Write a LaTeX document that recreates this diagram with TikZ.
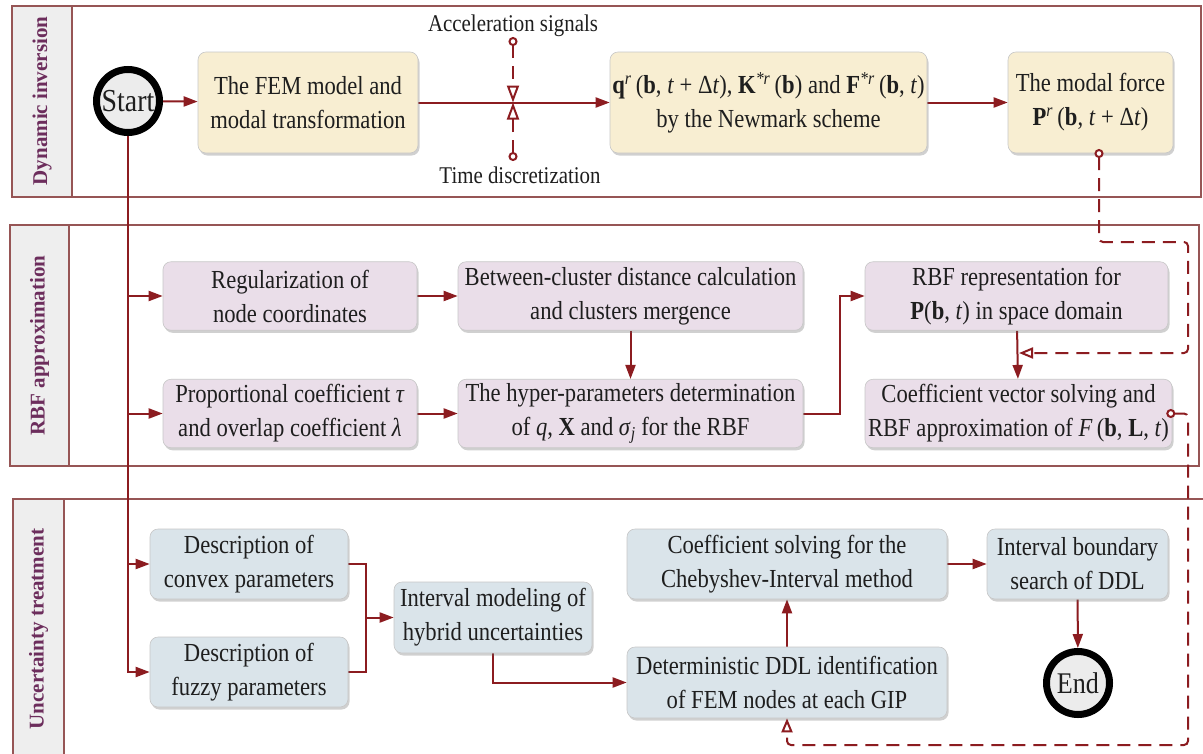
\documentclass[tikz,border=0pt]{standalone}
\usepackage{fontspec}
\setmainfont{Liberation Serif}[FakeStretch=0.87]
\newfontfamily\lanefont{Liberation Serif}
\usetikzlibrary{arrows.meta,shadows,calc}
\pgfdeclarelayer{bg}
\pgfsetlayers{bg,main}
\definecolor{arr}{RGB}{140,28,32}
\definecolor{lanec}{RGB}{150,85,85}
\definecolor{labg}{RGB}{238,238,238}
\definecolor{labc}{RGB}{108,45,92}
\definecolor{yel}{RGB}{248,238,210}
\definecolor{pur}{RGB}{234,222,233}
\definecolor{blu}{RGB}{218,228,234}
\definecolor{circ}{RGB}{236,236,236}
\definecolor{txt}{RGB}{30,30,30}
\newcommand\supit[1]{\textsuperscript{\itshape #1}}
\tikzset{
  box/.style={rounded corners=8pt, draw=black!22, line width=0.6pt, align=center, inner sep=2pt,
    font=\fontsize{26}{34}\selectfont, text=txt,
    drop shadow={shadow xshift=1.5pt, shadow yshift=-2.5pt, opacity=0.3, fill=black!60}},
  ybox/.style={box, fill=yel, minimum height=101pt},
  pbox/.style={box, fill=pur, minimum height=68.5pt},
  bbox/.style={box, fill=blu, minimum height=70pt},
  term/.style={circle, draw=black, line width=7pt, fill=circ, minimum size=63pt, inner sep=0pt, text=txt},
  plain/.style={draw=arr, line width=2pt},
  conn/.style={plain, -{Triangle[length=14pt,width=10pt]}},
  dconn/.style={plain, dash pattern=on 13pt off 8pt, rounded corners=4pt},
  ctip/.style={{Circle[open,length=9pt,width=9pt,fill=white]}-{Triangle[open,length=14pt,width=11pt]}},
  vtip/.style={{Circle[open,length=9pt,width=9pt,fill=white]}-{Triangle[open,length=17pt,width=12pt]}},
  lane/.style={draw=lanec, line width=1.8pt},
  lanelab/.style={rotate=90, font=\lanefont\bfseries\fontsize{21}{25}\selectfont, text=labc},
  small/.style={font=\fontsize{24}{28}\selectfont, text=txt}
}
\begin{document}
\begin{tikzpicture}[x=1pt,y=-1pt]
\useasboundingbox (0,0) rectangle (1203,753);

% ---------- nodes ----------
\node[term, font=\fontsize{32}{36}\selectfont] (start) at (128,101) {Start};
\node[ybox, minimum width=220pt] (fem) at (308,102.5) {The FEM model and\\modal transformation};
\node[ybox, minimum width=317pt] (newm) at (768.5,102.5)
  {\textbf{q}\supit{r}\,(\textbf{b}, \textit{t} + Δ\textit{t}), \textbf{K}\supit{*r}\,(\textbf{b}) and \textbf{F}\supit{*r}\,(\textbf{b}, \textit{t})\\by the Newmark scheme};
\node[ybox, minimum width=165pt] (modal) at (1090.5,102.5)
  {The modal force\\\textbf{P}\supit{r}\,(\textbf{b}, \textit{t} + Δ\textit{t})};

\node[pbox, minimum width=254pt] (reg) at (290,296) {Regularization of\\node coordinates};
\node[pbox, minimum width=254pt] (prop) at (290,413.5) {Proportional coefficient \textit{τ}\\and overlap coefficient \textit{λ}};
\node[pbox, minimum width=345pt] (betw) at (630.5,296) {Between-cluster distance calculation\\and clusters mergence};
\node[pbox, minimum width=345pt] (hyper) at (630.5,413.5)
  {The hyper-parameters determination\\of \textit{q}, \textbf{X} and \textit{σ}\textsubscript{\textit{j}} for the RBF};
\node[pbox, minimum width=303pt] (rep) at (1016.5,296) {RBF representation for\\\textbf{P}(\textbf{b}, \textit{t}) in space domain};
\node[pbox, minimum width=307pt] (coef) at (1018.5,413.5)
  {Coefficient vector solving and\\RBF approximation of \textit{F}\,(\textbf{b}, \textbf{L}, \textit{t})};

\node[bbox, minimum width=198pt] (convex) at (249,564) {Description of\\convex parameters};
\node[bbox, minimum width=198pt] (fuzzy) at (249,672) {Description of\\fuzzy parameters};
\node[bbox, minimum width=198pt, minimum height=71pt] (interval) at (493,617.5) {Interval modeling of\\hybrid uncertainties};
\node[bbox, minimum width=320pt] (cheb) at (787,564) {Coefficient solving for the\\Chebyshev-Interval method};
\node[bbox, minimum width=320pt, minimum height=71pt] (det) at (787,682.5) {Deterministic DDL identification\\of FEM nodes at each GIP};
\node[bbox, minimum width=181pt] (bound) at (1077.5,564) {Interval boundary\\search of DDL};
\node[term, font=\fontsize{30}{34}\selectfont] (end) at (1078,683) {End};

\node[small] (accl) at (513,26) {Acceleration signals};
\node[small] (timl) at (520,175) {Time discretization};

\coordinate (acc) at (513,37);
\coordinate (tim) at (513,161);
\coordinate (valve) at (513,102.5);
\coordinate (pc) at (1099,149);
\coordinate (cc) at ($(coef.east)+(-6,0)$);
\coordinate (mg) at ($(interval.west)+(-28,0)$);

% ---------- background: lanes and connectors ----------
\begin{pgfonlayer}{bg}
\fill[white] (0,0) rectangle (1203,753);
\draw[lane] (12,6) rectangle (1201,197);
\filldraw[lane, fill=labg] (12,6) rectangle (72,197);
\draw[lane] (10,225) rectangle (1199,466);
\filldraw[lane, fill=labg] (10,225) rectangle (69,466);
\draw[lane] (13,499) -- (1203,499);
\filldraw[lane, fill=labg] (13,760) -- (13,499) -- (64,499) -- (64,760);

\draw[conn] (start) -- (fem);
\draw[conn] (fem) -- (newm);
\draw[conn] (newm) -- (modal);

\draw[conn] (start.south) |- (fuzzy.west);
\draw[conn] (start.south |- reg.west) -- (reg.west);
\draw[conn] (start.south |- prop.west) -- (prop.west);
\draw[conn] (start.south |- convex.west) -- (convex.west);

\draw[conn] (reg) -- (betw);
\draw[conn] (prop) -- (hyper);
\draw[conn] (betw) -- (hyper);
\draw[conn] (hyper.east) -- ++(37,0) |- (rep.west);
\draw[conn] (rep) -- (coef);

\draw[plain] (convex.east) -| (mg);
\draw[plain] (fuzzy.east) -| (mg);
\draw[conn] (mg) -- (interval.west);
\draw[conn] (interval.south) |- (det.west);
\draw[conn] (det) -- (cheb);
\draw[conn] (cheb) -- (bound);
\draw[conn] (bound) -- (end);
\end{pgfonlayer}

\draw[dconn, vtip] (acc) -- (valve);
\draw[dconn, vtip] (tim) -- (valve);
\draw[dconn, ctip] (pc) -- (1099,242) -- (1188,242) -- (1188,353) -- (1019,353);
\draw[dconn, ctip] (cc) -- (1188,413.5) -- (1188,745) -- (det.south |- 0,745) -- (det.south);

\node[lanelab] (l1) at (42,101) {Dynamic inversion};
\node[lanelab] (l2) at (39.5,345.5) {RBF approximation};
\node[lanelab] (l3) at (38.5,629) {Uncertainty treatment};
\end{tikzpicture}
\end{document}
